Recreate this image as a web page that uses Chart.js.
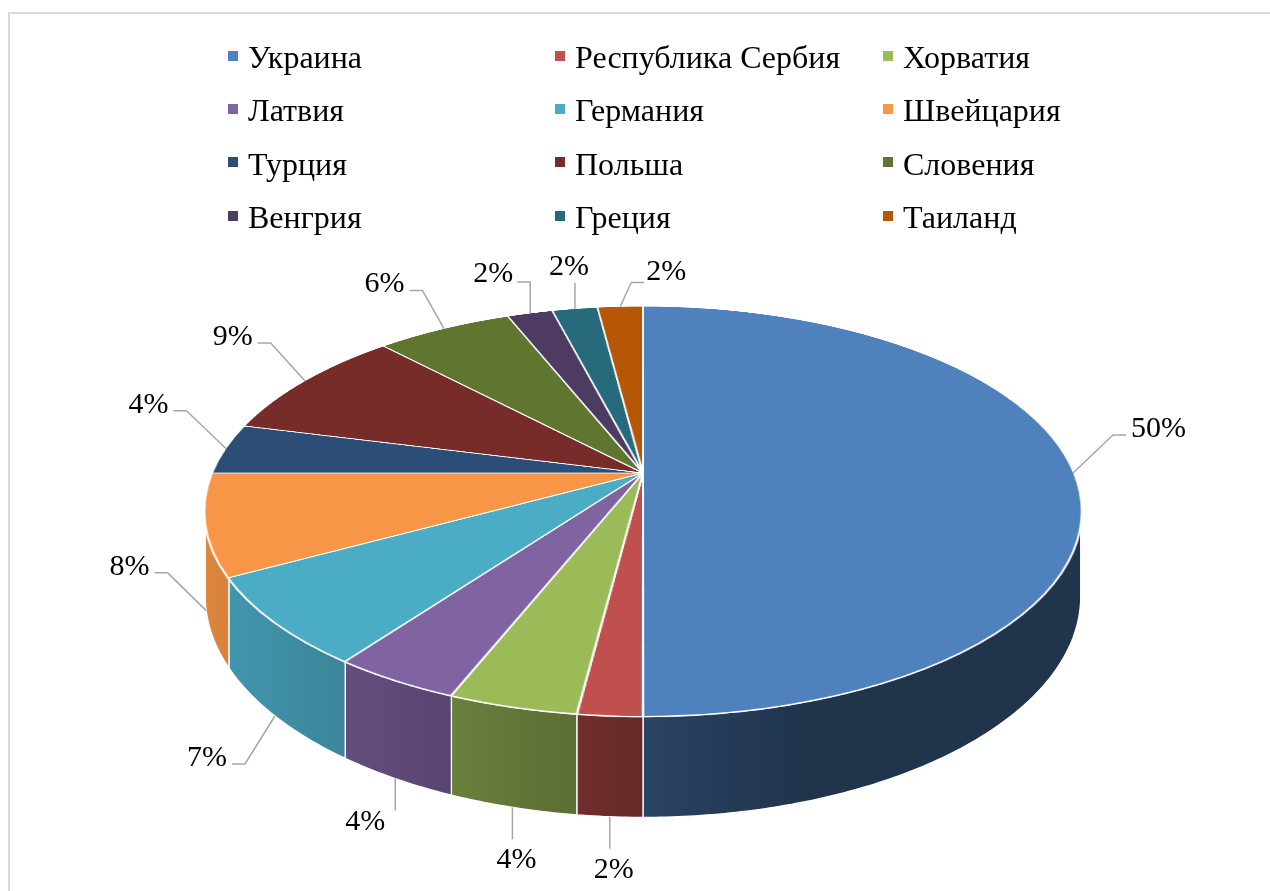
<!DOCTYPE html>
<html lang="ru">
<head>
<meta charset="utf-8">
<title>3D pie</title>
<script src="https://cdn.jsdelivr.net/npm/chart.js@4.4.0/dist/chart.umd.min.js"></script>
<style>
  body { margin: 0; background: #fff; }
  #wrap { position: relative; width: 1270px; height: 891px; overflow: hidden; }
  #frame { position: absolute; left: 8px; top: 12px; width: 1400px; height: 1000px;
           border-left: 2px solid #d9d9d9; border-top: 2px solid #d9d9d9; }
  #chart { position: absolute; left: 0; top: 0; }
  #legend { position: absolute; left: 228px; top: 31px; display: grid;
            grid-template-columns: 327px 328px auto;
            font-family: "Liberation Serif", "Times New Roman", serif; font-size: 32px; color: #000; }
  .item { height: 53.3px; display: flex; align-items: center; white-space: nowrap; }
  .box { width: 10px; height: 10px; margin-right: 10px; position: relative; top: -2px; }
</style>
</head>
<body>
<div id="wrap">
  <div id="frame"></div>
  <canvas id="chart" width="1270" height="891"></canvas>
  <div id="legend"></div>
</div>
<script>
// Data
const countries = ["Украина", "Республика Сербия", "Хорватия", "Латвия", "Германия", "Швейцария",
                   "Турция", "Польша", "Словения", "Венгрия", "Греция", "Таиланд"];
const shares = [50, 2, 4, 4, 7, 8, 4, 9, 6, 2, 2, 2];
const colors = ["#4f81bd", "#c0504d", "#9bbb59", "#8064a2", "#4bacc6", "#f79646",
                "#2c4d75", "#772c2a", "#5f7530", "#4d3b62", "#276a7c", "#b65708"];
const percentLabels = shares.map(v => v + "%");

// perspective of the tilted pie (screen px)
const TOP_Y = 473, PROJ_A = 198, PROJ_B = 430, PERSP = 0.187, DEPTH = 82;

function shade(hex, f) {
  const n = parseInt(hex.slice(1), 16);
  const r = Math.round(((n >> 16) & 255) * f), g = Math.round(((n >> 8) & 255) * f), b = Math.round((n & 255) * f);
  return "rgb(" + r + "," + g + "," + b + ")";
}

// legend
const legend = document.getElementById("legend");
countries.forEach((name, i) => {
  const el = document.createElement("div");
  el.className = "item";
  el.innerHTML = '<span class="box" style="background:' + colors[i] + '"></span>' + name;
  legend.appendChild(el);
});

const pie3d = {
  id: "pie3d",
  afterDraw(chart) {
    const ctx = chart.ctx;
    const arcs = chart.getDatasetMeta(0).data;
    const cx = arcs[0].x, cy = arcs[0].y, R = arcs[0].outerRadius;

    // copy the flat pie drawn by Chart.js, then clear
    const off = document.createElement("canvas");
    off.width = chart.canvas.width; off.height = chart.canvas.height;
    off.getContext("2d").drawImage(chart.canvas, 0, 0);
    ctx.save();
    ctx.setTransform(1, 0, 0, 1, 0, 0);
    ctx.clearRect(0, 0, chart.canvas.width, chart.canvas.height);

    const proj = (th) => {
      const t = Math.sin(th), g = 1 / (1 - PERSP * t);
      return [cx + PROJ_B * Math.cos(th) * g, TOP_Y + PROJ_A * t * g, g];
    };

    // side walls
    const thMin = Math.asin(PERSP), thMax = Math.PI - Math.asin(PERSP);
    arcs.forEach((arc, i) => {
      const a = Math.max(arc.startAngle, thMin), b = Math.min(arc.endAngle, thMax);
      if (a >= b) return;
      const N = Math.max(8, Math.ceil((b - a) * 90));
      ctx.beginPath();
      for (let k = 0; k <= N; k++) {
        const p = proj(a + (b - a) * k / N);
        if (k === 0) ctx.moveTo(p[0], p[1]); else ctx.lineTo(p[0], p[1]);
      }
      for (let k = N; k >= 0; k--) {
        const p = proj(a + (b - a) * k / N);
        ctx.lineTo(p[0], p[1] + DEPTH * p[2]);
      }
      ctx.closePath();
      const grad = ctx.createLinearGradient(cx - PROJ_B * 1.02, 0, cx + PROJ_B * 1.02, 0);
      grad.addColorStop(0, shade(colors[i], 0.89));
      grad.addColorStop(0.5, shade(colors[i], 0.53));
      grad.addColorStop(0.68, shade(colors[i], 0.40));
      grad.addColorStop(1, shade(colors[i], 0.40));
      ctx.fillStyle = grad;
      ctx.fill();
      ctx.strokeStyle = "#fff";
      ctx.lineWidth = 1.3;
      ctx.lineJoin = "round";
      ctx.stroke();
    });

    // top face: row by row perspective of the flat pie
    const yTop = TOP_Y - PROJ_A / (1 + PERSP), yBot = TOP_Y + PROJ_A / (1 - PERSP);
    for (let Y = Math.floor(yTop) - 1; Y <= Math.ceil(yBot); Y++) {
      const yy = Y + 0.5 - TOP_Y;
      const t = yy / (PROJ_A + PERSP * yy);
      if (t < -1.02 || t > 1.02) continue;
      const g = 1 / (1 - PERSP * t);
      const sh = Math.max(1, R * PROJ_A / Math.pow(PROJ_A + PERSP * yy, 2));
      const sy = cy + t * R - sh / 2;
      ctx.drawImage(off, cx - R, sy, 2 * R, sh, cx - PROJ_B * g * (R + 1) / R, Y, 2 * PROJ_B * g * (R + 1) / R, 1);
    }

    // data labels with leader lines
    ctx.font = '30px "Liberation Serif", "Times New Roman", serif';
    ctx.strokeStyle = "#a6a6a6";
    ctx.lineWidth = 1.5;
    ctx.fillStyle = "#000";
    arcs.forEach((arc, i) => {
      const m = (arc.startAngle + arc.endAngle) / 2;
      const c = Math.cos(m), s = Math.sin(m);
      const p = proj(m);
      const ax = p[0], ay = p[1] + (s > PERSP ? DEPTH * p[2] : 0);
      const txt = percentLabels[i];
      ctx.beginPath();
      ctx.moveTo(ax, ay);
      if (s > 0.85) {
        // front: drop straight down
        const ey = ay + 32;
        ctx.lineTo(ax, ey);
        ctx.stroke();
        if (Math.abs(c) < 0.3) {
          ctx.textAlign = "center"; ctx.textBaseline = "top";
          ctx.fillText(txt, ax + 4, ey + 6);
        } else {
          ctx.textAlign = c > 0 ? "left" : "right"; ctx.textBaseline = "middle";
          ctx.fillText(txt, ax + (c > 0 ? 10 : -10), ey + 12);
        }
      } else if (s < -0.93) {
        // back: straight up
        if (Math.abs(c) < 0.1) {
          const ex = ax + 11, ey = ay - 24;
          ctx.lineTo(ex, ey); ctx.lineTo(ex + 13, ey); ctx.stroke();
          ctx.textAlign = "left"; ctx.textBaseline = "middle";
          ctx.fillText(txt, ex + 15, ey - 10);
        } else if (Math.abs(c) < 0.25) {
          const ey = ay - 26;
          ctx.lineTo(ax, ey); ctx.stroke();
          ctx.textAlign = "center"; ctx.textBaseline = "alphabetic";
          ctx.fillText(txt, ax - 6, ey - 8);
        } else {
          const ey = ay - 31;
          const dir = c > 0 ? 1 : -1;
          ctx.lineTo(ax, ey); ctx.lineTo(ax + dir * 13, ey); ctx.stroke();
          ctx.textAlign = c > 0 ? "left" : "right"; ctx.textBaseline = "middle";
          ctx.fillText(txt, ax + dir * 17, ey - 8);
        }
      } else {
        const ex = ax + 40 * c, ey = ay + (s > 0.5 ? 48 : -38);
        const dir = c > 0 ? 1 : -1;
        ctx.lineTo(ex, ey);
        ctx.lineTo(ex + dir * 13, ey);
        ctx.stroke();
        ctx.textAlign = c > 0 ? "left" : "right";
        ctx.textBaseline = "middle";
        ctx.fillText(txt, ex + dir * 18, ey - 6);
      }
    });
    ctx.restore();
  }
};

new Chart(document.getElementById("chart"), {
  type: "pie",
  data: {
    labels: countries,
    datasets: [{
      data: shares,
      backgroundColor: colors,
      borderColor: "#ffffff",
      borderWidth: 2
    }]
  },
  options: {
    responsive: false,
    devicePixelRatio: 1,
    animation: false,
    layout: { padding: { left: 204, right: 188, top: 6, bottom: 7 } },
    plugins: { legend: { display: false }, tooltip: { enabled: false } }
  },
  plugins: [pie3d]
});
</script>
</body>
</html>
